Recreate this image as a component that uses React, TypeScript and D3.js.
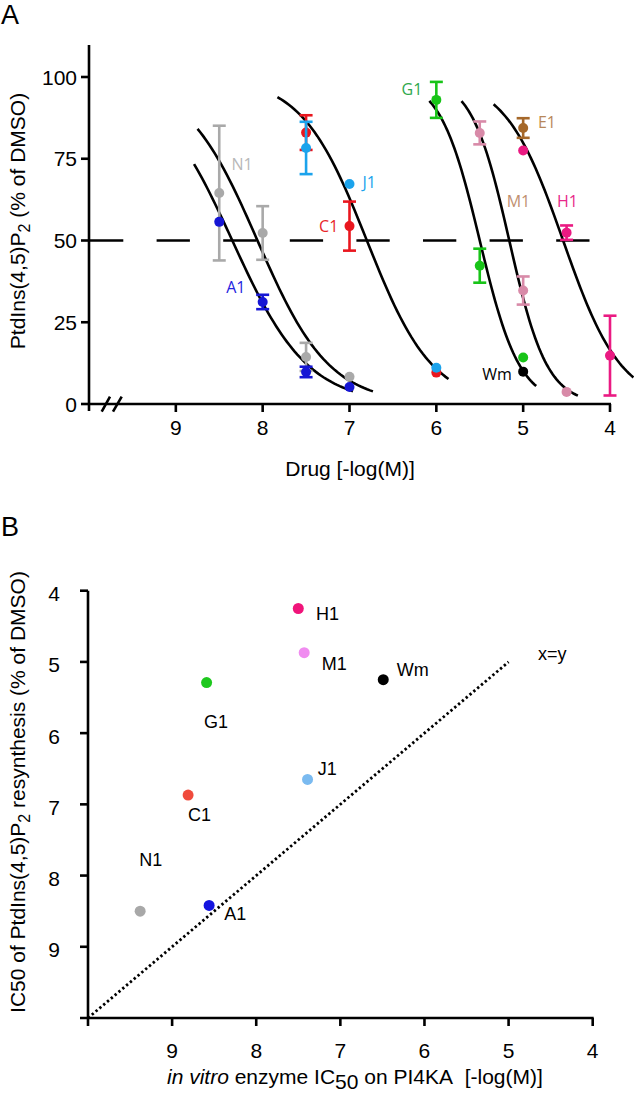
import React from 'react';
import * as d3 from 'd3';

// ---- Panel A: PtdIns(4,5)P2 resynthesis vs drug, [-log(M), % of DMSO, error]
const namesA = ['N1', 'A1', 'C1', 'J1', 'G1', 'M1', 'E1', 'H1', 'Wm'];
const n1Points = [[8.5, 64.5, 20.6], [8, 52.3, 8.2], [7.5, 14.4, 4.3], [7, 8.3, 0]];
const a1Points = [[8.5, 55.7, 0], [8, 31.2, 2.2], [7.5, 9.8, 1.6], [7, 5.2, 0]];
const c1Points = [[7.5, 83, 5.3], [7, 54.4, 7.5], [6, 9.6, 0]];
const j1Points = [[7.5, 78.3, 8], [7, 67.3, 0], [6, 11.1, 0]];
const g1Points = [[6, 93, 5.5], [5.5, 42.3, 5.2], [5, 14.2, 0]];
const m1Points = [[5.5, 82.9, 3.5], [5, 34.7, 4.3], [4.5, 3.7, 0]];
const e1Points = [[5, 84.4, 3]];
const h1Points = [[5, 77.5, 0], [4.5, 52.4, 2.2], [4, 14.8, 12.2]];
const wmPoints = [[5, 9.9, 0]];
const pointColorsA = ['#a9a9a9', '#1616d4', '#e9161e', '#1ba3ec', '#18c418', '#d88aa8', '#a5682a', '#ea1a82', '#000000'];
const labelColorsA = ['#b8b8b8', '#2424e0', '#e8242a', '#1ba3ec', '#2ea84c', '#c09070', '#b8875a', '#e8288a', '#000000'];
const labelPosA = [[8.36, 71.6], [8.42, 33.9], [7.35, 52.6], [6.85, 66.1], [6.4, 94.5], [5.19, 60.2], [4.83, 84.4], [4.61, 60.2], [5.47, 7.3]];

// fitted curves
const curveIC50 = [8.35, 8.06, 6.8, 5.5, 5.16, 4.54];
const curveHill = [1.0, 1.05, 1.15, 1.9, 2.0, 1.3];
const curveFrom = [8.79, 8.75, 7.83, 6.08, 5.71, 5.34];
const curveTo = [6.96, 6.73, 5.86, 4.85, 4.37, 3.73];

const ticksXA = [9, 8, 7, 6, 5, 4];
const ticksYA = [0, 25, 50, 75, 100];
const halfLine = [50, 10, 4.23];

// ---- Panel B: cellular IC50 vs in vitro enzyme IC50
const namesB = ['H1', 'M1', 'Wm', 'G1', 'J1', 'C1', 'N1', 'A1'];
const enzymeB = [7.5, 7.43, 6.49, 8.59, 7.39, 8.81, 9.38, 8.56];
const cellB = [4.25, 4.87, 5.25, 5.29, 6.65, 6.87, 8.5, 8.42];
const colorsB = ['#f0147a', '#f08cf0', '#000000', '#1ec81e', '#7abaf0', '#f04a3c', '#a8a8a8', '#1414e0'];
const labelPosB = [[7.29, 4.41], [7.22, 5.11], [6.33, 5.2], [8.62, 5.93], [7.27, 6.59], [8.81, 7.24], [9.39, 7.87], [8.38, 8.62]];
const identity = [10, 5];
const ticksXB = [9, 8, 7, 6, 5, 4];
const ticksYB = [4, 5, 6, 7, 8, 9];

const pointsA = [n1Points, a1Points, c1Points, j1Points, g1Points, m1Points, e1Points, h1Points, wmPoints];

const FONT = '"Liberation Sans", Arial, Helvetica, sans-serif';
const LABEL_FONT = '"Open Sans", "Noto Sans", sans-serif';

export default function App() {
  const xA = d3.scaleLinear().domain([10, 4]).range([89, 610]);
  const yA = d3.scaleLinear().domain([0, 100]).range([404, 77]);
  const xB = d3.scaleLinear().domain([10, 4]).range([88, 592.7]);
  const yB = d3.scaleLinear().domain([4, 10]).range([590.7, 1018]);

  const line = d3.line<number[]>().x((d) => xA(d[0])).y((d) => yA(d[1]));
  const curves = curveIC50.map((ic, i) => {
    const pts = d3.range(0, 61).map((k) => {
      const p = curveFrom[i] + ((curveTo[i] - curveFrom[i]) * k) / 60;
      return [p, 100 / (1 + Math.pow(10, curveHill[i] * (ic - p)))];
    });
    return line(pts) as string;
  });

  const axisStroke = 2.6;

  return (
    <svg width={634} height={1095} style={{ position: 'absolute', left: 0, top: 0, background: '#fff' }} fontFamily={FONT}>
      {/* ---------------- Panel A ---------------- */}
      <text x={1} y={24} fontSize={27}>A</text>

      {/* axes */}
      <line x1={xA(10)} x2={xA(10)} y1={45} y2={411} stroke="#000" strokeWidth={axisStroke} />
      <line x1={xA(10)} x2={xA(4) + 1} y1={yA(0)} y2={yA(0)} stroke="#000" strokeWidth={axisStroke} />
      {ticksYA.map((t) => (
        <g key={'ya' + t}>
          <line x1={xA(10) - 8} x2={xA(10)} y1={yA(t)} y2={yA(t)} stroke="#000" strokeWidth={axisStroke} />
          <text x={77} y={yA(t)} dy="0.36em" textAnchor="end" fontSize={21}>{t}</text>
        </g>
      ))}
      {ticksXA.map((t) => (
        <g key={'xa' + t}>
          <line x1={xA(t)} x2={xA(t)} y1={yA(0)} y2={yA(0) + 8} stroke="#000" strokeWidth={axisStroke} />
          <text x={xA(t)} y={435} textAnchor="middle" fontSize={21}>{t}</text>
        </g>
      ))}
      {/* axis break */}
      <path d="M101.7,411.7L110,396.7M113,411.7L121.7,396.7" stroke="#000" strokeWidth={axisStroke} fill="none" />

      <text x={350} y={476} textAnchor="middle" fontSize={21}>Drug [-log(M)]</text>
      <text transform="translate(25,221) rotate(-90)" textAnchor="middle" fontSize={21}>
        PtdIns(4,5)P<tspan fontSize={16} dy={5}>2</tspan><tspan dy={-5}> (% of DMSO)</tspan>
      </text>

      {/* 50% line */}
      <line x1={xA(halfLine[1]) + 1} x2={xA(halfLine[2])} y1={yA(halfLine[0])} y2={yA(halfLine[0])}
        stroke="#000" strokeWidth={2.6} strokeDasharray="33.3 33.3" />

      {/* fitted curves */}
      {curves.map((d, i) => (
        <path key={'c' + i} d={d} fill="none" stroke="#000" strokeWidth={2.6} />
      ))}

      {/* data with error bars */}
      {pointsA.map((pts, i) => (
        <g key={'pa' + i}>
          {pts.map((p, j) => (
            <g key={j}>
              {p[2] > 0 && (
                <g stroke={pointColorsA[i]} strokeWidth={2.6}>
                  <line x1={xA(p[0])} x2={xA(p[0])} y1={yA(p[1] - p[2])} y2={yA(p[1] + p[2])} />
                  <line x1={xA(p[0]) - 6.5} x2={xA(p[0]) + 6.5} y1={yA(p[1] - p[2])} y2={yA(p[1] - p[2])} />
                  <line x1={xA(p[0]) - 6.5} x2={xA(p[0]) + 6.5} y1={yA(p[1] + p[2])} y2={yA(p[1] + p[2])} />
                </g>
              )}
              <circle cx={xA(p[0])} cy={yA(p[1])} r={5} fill={pointColorsA[i]} />
            </g>
          ))}
          <text x={xA(labelPosA[i][0])} y={yA(labelPosA[i][1])} fontSize={16} fontFamily={LABEL_FONT}
            fill={labelColorsA[i]}>{namesA[i]}</text>
        </g>
      ))}

      {/* ---------------- Panel B ---------------- */}
      <text x={1} y={536} fontSize={27}>B</text>

      <line x1={xB(10)} x2={xB(10)} y1={yB(4)} y2={yB(10) + 8} stroke="#000" strokeWidth={axisStroke} />
      <line x1={xB(10) - 8} x2={xB(4) + 1} y1={yB(10)} y2={yB(10)} stroke="#000" strokeWidth={axisStroke} />
      {ticksYB.map((t) => (
        <g key={'yb' + t}>
          <line x1={xB(10) - 8} x2={xB(10)} y1={yB(t)} y2={yB(t)} stroke="#000" strokeWidth={axisStroke} />
          <text x={60} y={yB(t) + 3} dy="0.36em" textAnchor="end" fontSize={21}>{t}</text>
        </g>
      ))}
      {ticksXB.map((t) => (
        <g key={'xb' + t}>
          <line x1={xB(t)} x2={xB(t)} y1={yB(10)} y2={yB(10) + 8} stroke="#000" strokeWidth={axisStroke} />
          <text x={xB(t)} y={1058} textAnchor="middle" fontSize={21}>{t}</text>
        </g>
      ))}

      <text x={167} y={1084} fontSize={21}>
        <tspan fontStyle="italic">in vitro</tspan> enzyme IC<tspan dy={5}>50</tspan>
        <tspan dy={-5}>{' on PI4KA\u00a0 [-log(M)]'}</tspan>
      </text>
      <text transform="translate(25,792) rotate(-90)" textAnchor="middle" fontSize={21}>
        IC50 of PtdIns(4,5)P<tspan fontSize={16} dy={5}>2</tspan><tspan dy={-5}> resynthesis (% of DMSO)</tspan>
      </text>

      {/* x = y */}
      <line x1={xB(identity[0])} y1={yB(identity[0])} x2={xB(identity[1])} y2={yB(identity[1])}
        stroke="#000" strokeWidth={2.8} strokeDasharray="2.4 2.6" />
      <text x={xB(4.65)} y={yB(4.97)} fontSize={18}>x=y</text>

      {namesB.map((n, i) => (
        <g key={'pb' + n}>
          <circle cx={xB(enzymeB[i])} cy={yB(cellB[i])} r={5.5} fill={colorsB[i]} />
          <text x={xB(labelPosB[i][0])} y={yB(labelPosB[i][1])} fontSize={18}>{n}</text>
        </g>
      ))}
    </svg>
  );
}
